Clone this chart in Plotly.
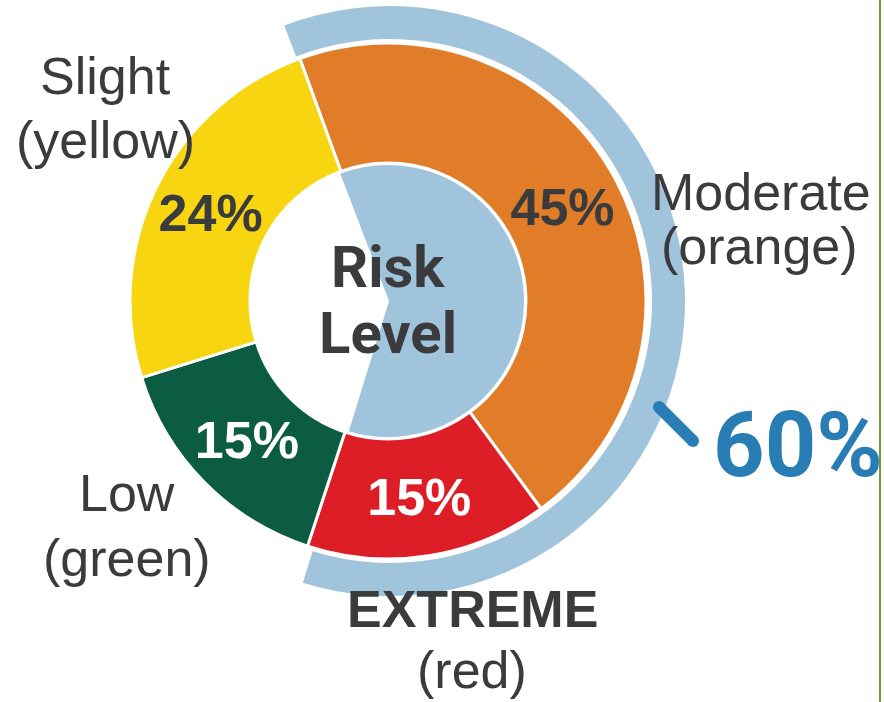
import plotly.graph_objects as go

# ---------------- data ----------------
categories = ["Moderate", "EXTREME", "Low", "Slight"]
color_names = ["(orange)", "(red)", "(green)", "(yellow)"]
values = [45, 15, 15, 24]
slice_colors = ["#E17D28", "#DD1E26", "#0C5C44", "#F7D611"]
label_colors = ["#3A3B3D", "#FFFFFF", "#FFFFFF", "#3A3B3D"]
highlight_names = ["Moderate + EXTREME", "Slight + Low"]
highlight_values = [values[0] + values[1], values[2] + values[3]]
highlight_text = "60%"
center_title = ["Risk", "Level"]

# ---------------- geometry helpers ----------------
W, H = 884, 702
CX, CY = 388, 301
DARK = "#3A3B3D"
LIGHT_BLUE = "#A0C4DC"
BLUE = "#287DB5"
FONT = "Arial, Liberation Sans, sans-serif"


def px(x):
    return x / W


def py(y):
    return 1 - y / H


def dom(r, cx=CX, cy=CY):
    return dict(x=[px(cx - r), px(cx + r)], y=[py(cy + r), py(cy - r)])


fig = go.Figure()

# outer highlight ring
fig.add_trace(go.Pie(
    labels=highlight_names, values=highlight_values, sort=False,
    direction="clockwise", rotation=-21, hole=262 / 295,
    domain=dom(295, cx=390, cy=301),
    marker=dict(colors=[LIGHT_BLUE, "rgba(0,0,0,0)"], line=dict(width=0)),
    textinfo="none", hoverinfo="skip", showlegend=False,
))

# main donut
fig.add_trace(go.Pie(
    labels=categories, values=values, sort=False,
    direction="clockwise", rotation=-20, hole=138 / 258,
    domain=dom(258),
    marker=dict(colors=slice_colors, line=dict(color="white", width=3)),
    texttemplate="%{value}%", textposition="inside",
    insidetextorientation="horizontal",
    insidetextfont=dict(family=FONT, size=52, color=label_colors, weight="bold"),
    hoverinfo="label+value", showlegend=False,
))

# inner highlight sector
fig.add_trace(go.Pie(
    labels=highlight_names, values=highlight_values, sort=False,
    direction="clockwise", rotation=-21, hole=0,
    domain=dom(137),
    marker=dict(colors=[LIGHT_BLUE, "rgba(0,0,0,0)"],
                line=dict(color=["white", "rgba(0,0,0,0)"], width=2)),
    textinfo="none", hoverinfo="skip", showlegend=False,
))

annotations = []


def add_text(text, x, y, size, bold=False, color=DARK, family=FONT):
    annotations.append(dict(
        text=text, x=px(x), y=py(y), xref="paper", yref="paper",
        xanchor="center", yanchor="middle", showarrow=False,
        font=dict(family=family, size=size, color=color,
                  weight="bold" if bold else "normal"),
    ))


# category labels (two lines each)
add_text(categories[3], 105, 76, 52)
add_text(color_names[3], 105, 140, 52)
add_text(categories[0], 761, 192, 52)
add_text(color_names[0], 759, 246, 52)
add_text(categories[2], 127, 493, 52)
add_text(color_names[2], 127, 558, 52)
add_text(categories[1], 472, 609, 52, bold=True)
add_text(color_names[1], 472, 670, 52)

# centre title
TITLE_FONT = "Roboto, Arial, sans-serif"
add_text(center_title[0], 388, 267, 58, bold=True, family=TITLE_FONT)
add_text(center_title[1], 388, 333, 58, bold=True, family=TITLE_FONT)

# 60% callout
add_text(highlight_text, 798, 445, 90, bold=True, color=BLUE,
         family="Roboto, Arial, sans-serif")

shapes = [
    # callout tick
    dict(type="line", xref="paper", yref="paper",
         x0=px(659), y0=py(407), x1=px(693), y1=py(441),
         line=dict(color=BLUE, width=12)),
    dict(type="circle", xref="paper", yref="paper",
         x0=px(653), y0=py(401), x1=px(665), y1=py(413),
         fillcolor=BLUE, line=dict(width=0)),
    dict(type="circle", xref="paper", yref="paper",
         x0=px(687), y0=py(435), x1=px(699), y1=py(447),
         fillcolor=BLUE, line=dict(width=0)),
    # right green rule
    dict(type="line", xref="paper", yref="paper",
         x0=px(880), y0=0, x1=px(880), y1=1,
         line=dict(color="#6E9E3C", width=2)),
]

fig.update_layout(
    width=W, height=H,
    margin=dict(l=0, r=0, t=0, b=0),
    paper_bgcolor="white", plot_bgcolor="white",
    showlegend=False,
    annotations=annotations,
    shapes=shapes,
)

fig.write_html(
    "out.html",
    config={"displayModeBar": False},
    post_script="document.body.style.margin='0';document.body.style.overflow='hidden';",
)
